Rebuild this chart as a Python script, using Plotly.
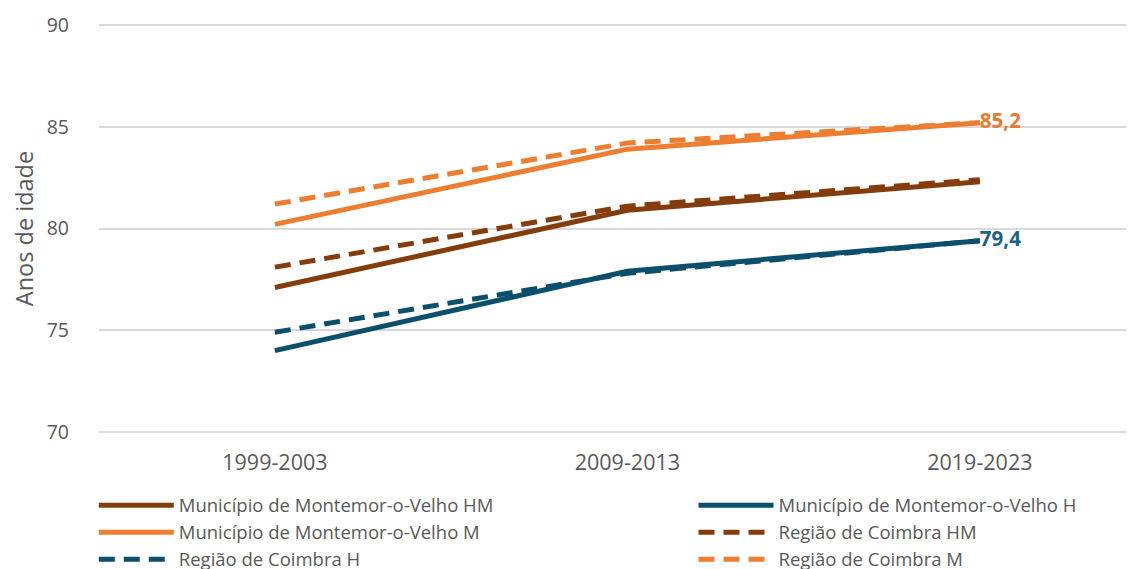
import plotly.graph_objects as go

periods = ["1999-2003", "2009-2013", "2019-2023"]
mun_hm = [77.1, 80.9, 82.3]
mun_h = [74.0, 77.9, 79.4]
mun_m = [80.2, 83.9, 85.2]
reg_hm = [78.1, 81.1, 82.4]
reg_h = [74.9, 77.8, 79.4]
reg_m = [81.2, 84.2, 85.2]

BROWN = "#843C0C"
TEAL = "#0B4F6C"
ORANGE = "#ED7D31"

def lab(vals, show):
    if not show:
        return None
    return [""] * (len(vals) - 1) + [f"<b>{vals[-1]:.1f}</b>".replace(".", ",")]

# name, values, colour, dash, show label, label colour, legend column
series = [
    ("Município de Montemor-o-Velho HM", mun_hm, BROWN, "solid", False, None, "legend"),
    ("Município de Montemor-o-Velho H", mun_h, TEAL, "solid", True, "#1F6185", "legend2"),
    ("Município de Montemor-o-Velho M", mun_m, ORANGE, "solid", True, "#E97A35", "legend"),
    ("Região de Coimbra HM", reg_hm, BROWN, "16px,9px", False, None, "legend2"),
    ("Região de Coimbra H", reg_h, TEAL, "16px,9px", False, None, "legend"),
    ("Região de Coimbra M", reg_m, ORANGE, "16px,9px", False, None, "legend2"),
]

fig = go.Figure()
for name, vals, color, dash, show, tcol, lg in series:
    txt = lab(vals, show)
    fig.add_trace(go.Scatter(
        x=periods, y=vals, name=name, legend=lg,
        mode="lines+text" if txt else "lines",
        text=txt, textposition="middle right",
        textfont=dict(family="Open Sans", size=20.5, color=tcol or color),
        line=dict(color=color, width=5, dash=dash),
        cliponaxis=False,
    ))

legend_common = dict(
    orientation="v", xanchor="left", yanchor="top", y=-0.128,
    font=dict(family="Open Sans", size=18.5, color="#595959"),
    tracegroupgap=0, itemwidth=75, bgcolor="rgba(0,0,0,0)",
)

fig.update_layout(
    width=1134, height=569,
    margin=dict(l=91, r=0, t=15, b=143, autoexpand=False),
    plot_bgcolor="white", paper_bgcolor="white",
    font=dict(family="Open Sans", color="#595959"),
    showlegend=True,
    legend=dict(x=-0.005, **legend_common),
    legend2=dict(x=0.570, **legend_common),
    xaxis=dict(
        type="category", range=[-0.499, 2.46],
        showgrid=False, zeroline=False, showline=False,
        tickfont=dict(size=21.5, color="#595959"),
        ticks="", ticklabelstandoff=13,
    ),
    yaxis=dict(
        range=[69.9, 90.1], dtick=5, tick0=70,
        showgrid=True, gridcolor="#D9D9D9", gridwidth=1.5,
        zeroline=False, showline=False,
        tickfont=dict(size=19.5, color="#595959"),
        ticklabelstandoff=29,
        title=dict(text="Anos de idade", font=dict(size=23.5, color="#595959"), standoff=20),
    ),
)

fig.write_html("out.html")
